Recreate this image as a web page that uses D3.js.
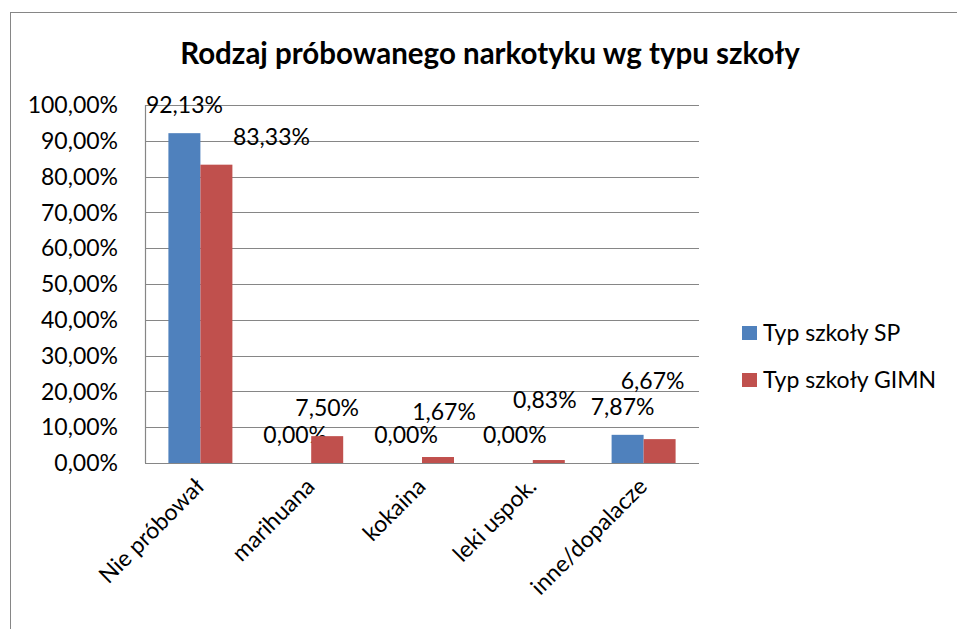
<!DOCTYPE html>
<html>
<head>
<meta charset="utf-8">
<script src="https://cdn.jsdelivr.net/npm/d3@7"></script>
<style>
  body { margin: 0; background: #fff; }
  text { font-family: Lato, "Open Sans", sans-serif; fill: #000; }
</style>
</head>
<body>
<div id="chart"></div>
<script>
// data
let categories = ["Nie próbował", "marihuana", "kokaina", "leki uspok.", "inne/dopalacze"];
let seriesNames = ["Typ szkoły SP", "Typ szkoły GIMN"];
let valuesSP = [0.9213, 0, 0, 0, 0.0787];
let valuesGIMN = [0.8333, 0.075, 0.0167, 0.0083, 0.0667];
let yTicks = [0, 0.1, 0.2, 0.3, 0.4, 0.5, 0.6, 0.7, 0.8, 0.9, 1];

// label nudges (px) for the data labels that were dragged in the original
let nudgeSP = [[0, 0], [0, 0], [0, 0], [-2, 0], [-5, 0]];
let nudgeGIMN = [[55, 0], [0, 0], [6, -17], [-4, -32], [-7, -30]];

let colors = ["#4f81bd", "#c0504d"];

let plLocale = d3.formatLocale({decimal: ",", thousands: " ", grouping: [3], currency: ["", " zł"]});
let pct = plLocale.format(".2%");

let width = 957, height = 629;
let plot = {left: 145, right: 699, top: 105, bottom: 463};
let fs = 23;

let svg = d3.select("#chart").append("svg")
	.attr("width", width)
	.attr("height", height);

// chart area border
svg.append("rect")
	.attr("x", 10.5).attr("y", 12.5)
	.attr("width", 980).attr("height", 640)
	.attr("fill", "none")
	.attr("stroke", "#868686");

// title
svg.append("text")
	.attr("x", 490).attr("y", 64)
	.attr("text-anchor", "middle")
	.attr("font-size", 29.5)
	.attr("font-weight", "bold")
	.text("Rodzaj próbowanego narkotyku wg typu szkoły");

let y = d3.scaleLinear().domain([0, 1]).range([plot.bottom, plot.top]);

let x = d3.scaleBand()
	.domain(categories)
	.range([plot.left, plot.right])
	.paddingInner(0.4224)
	.paddingOuter(0.2112);

let xSub = d3.scaleBand()
	.domain(seriesNames)
	.range([0, x.bandwidth()]);

// gridlines
svg.append("g").selectAll("line")
	.data(yTicks)
	.enter().append("line")
	.attr("x1", plot.left).attr("x2", plot.right)
	.attr("y1", d => Math.round(y(d)) + 0.5)
	.attr("y2", d => Math.round(y(d)) + 0.5)
	.attr("stroke", "#868686")
	.attr("stroke-width", 1.2);

// y axis line
svg.append("line")
	.attr("x1", plot.left + 0.5).attr("x2", plot.left + 0.5)
	.attr("y1", plot.top).attr("y2", plot.bottom)
	.attr("stroke", "#868686")
	.attr("stroke-width", 1.2);

// y tick labels
svg.append("g").selectAll("text")
	.data(yTicks)
	.enter().append("text")
	.attr("x", 118)
	.attr("y", d => y(d))
	.attr("dy", "0.36em")
	.attr("text-anchor", "end")
	.attr("font-size", fs)
	.text(d => pct(d));

// bars
let series = [
	{name: seriesNames[0], values: valuesSP, nudge: nudgeSP, color: colors[0]},
	{name: seriesNames[1], values: valuesGIMN, nudge: nudgeGIMN, color: colors[1]}
];

series.forEach(s => {
	let g = svg.append("g");
	g.selectAll("rect")
		.data(categories)
		.enter().append("rect")
		.attr("x", c => x(c) + xSub(s.name))
		.attr("y", (c, i) => y(s.values[i]))
		.attr("width", xSub.bandwidth())
		.attr("height", (c, i) => y(0) - y(s.values[i]))
		.attr("fill", s.color);

	g.selectAll("text")
		.data(categories)
		.enter().append("text")
		.attr("x", (c, i) => x(c) + xSub(s.name) + xSub.bandwidth() / 2 + s.nudge[i][0])
		.attr("y", (c, i) => y(s.values[i]) - 20 + s.nudge[i][1])
		.attr("text-anchor", "middle")
		.attr("font-size", fs)
		.text((c, i) => pct(s.values[i]));
});

// category labels, rotated
svg.append("g").selectAll("text")
	.data(categories)
	.enter().append("text")
	.attr("text-anchor", "end")
	.attr("font-size", fs)
	.attr("transform", c => "translate(" + (x(c) + x.bandwidth() / 2 + 5) + "," + (plot.bottom + 25) + ") rotate(-45)")
	.text(c => c);

// legend
let legend = svg.append("g").selectAll("g")
	.data(series)
	.enter().append("g")
	.attr("transform", (d, i) => "translate(742," + (326 + i * 47) + ")");

legend.append("rect")
	.attr("width", 15).attr("height", 14)
	.attr("fill", d => d.color);

legend.append("text")
	.attr("x", 21).attr("y", 7)
	.attr("dy", "0.36em")
	.attr("font-size", fs)
	.text(d => d.name);
</script>
</body>
</html>
